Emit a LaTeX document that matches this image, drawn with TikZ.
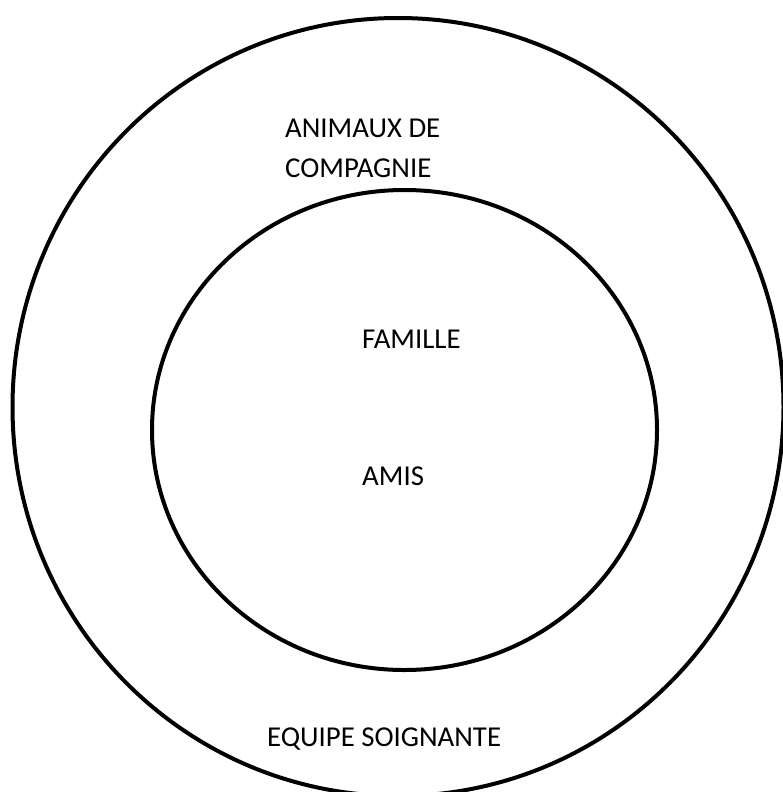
\documentclass[tikz,border=0pt]{standalone}
\usepackage{fontspec}
\setmainfont{Carlito}
\begin{document}
\begin{tikzpicture}[x=1pt,y=-1pt,
  ring/.style={draw=black,line width=4pt},
  lbl/.style={anchor=base west,inner sep=0pt,font=\fontsize{28.8}{40}\selectfont}]
\useasboundingbox (0,0) rectangle (782,792);
\draw[ring] (398,407) ellipse [x radius=385.5, y radius=389];
\draw[ring] (404.5,430) ellipse [x radius=252.5, y radius=240];
\node[lbl] (animaux) at (285,137) {ANIMAUX DE};
\begin{scope}
\clip (0,0) rectangle (782,177.5);
\node[lbl] (compagnie) at (285,177) {COMPAGNIE};
\end{scope}
\node[lbl] (famille) at (362,348) {FAMILLE};
\node[lbl] (amis) at (362,485) {AMIS};
\node[lbl] (equipe) at (267,746) {EQUIPE SOIGNANTE};
\end{tikzpicture}
\end{document}
